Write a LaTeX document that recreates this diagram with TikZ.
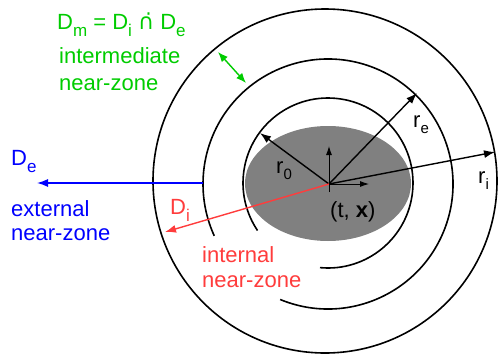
\documentclass[tikz,border=0pt]{standalone}
\usepackage{fontspec}
\setmainfont{Liberation Sans}
\newfontfamily\symfont{DejaVu Sans}
\usetikzlibrary{arrows.meta}

\definecolor{zonegreen}{RGB}{0,204,0}
\definecolor{zoneblue}{RGB}{0,0,255}
\definecolor{zonered}{RGB}{255,60,60}
\definecolor{bodygray}{RGB}{128,128,128}

% 下付き文字
\newcommand{\lowsub}[1]{\raisebox{-7pt}{\fontsize{17}{17}\selectfont #1}}
\newcommand{\rsub}[1]{\raisebox{-6pt}{\fontsize{15}{15}\selectfont #1}}

\tikzset{
  zone/.style={line width=1.6pt},
  radarrow/.style={line width=1.4pt, -{Latex[length=11pt,width=8pt]}},
  axarrow/.style={line width=0.9pt, -{Latex[length=9pt,width=6pt]}},
  lbl/.style={inner sep=0pt, anchor=base west, font=\fontsize{22}{26}\selectfont},
}

\begin{document}
\begin{tikzpicture}[x=1pt,y=-1pt]
  \useasboundingbox (0,0) rectangle (499,354);
  % 物体（灰色の楕円）
  \fill[bodygray] (328,183.5) ellipse [x radius=83pt, y radius=57.5pt];
  % 外側の円
  \draw[zone] (325,181) circle (172pt);
  % 中間の円（左下が欠けている）
  \draw[zone] (328,184) ++(247.5:125pt) arc [start angle=247.5, end angle=564.5, radius=125pt];
  % 内側の円
  \draw[zone] (328,183) ++(264.6:85pt) arc [start angle=264.6, end angle=574, radius=85pt];

  % 中心と矢印の端点
  \coordinate (c) at (329,184);
  \coordinate (r0tip) at (260,133);
  \coordinate (retip) at (417,93);
  \coordinate (ritip) at (495,152);
  \coordinate (ditip) at (165,232);
  \coordinate (axbot) at (329,192);
  \coordinate (axup) at (329,146);
  \coordinate (axright) at (369,184);
  \coordinate (bstart) at (203,183);
  \coordinate (btip) at (37,183);
  \coordinate (gout) at (218,52);
  \coordinate (gin) at (246,83);

  % 半径の矢印
  \draw[radarrow] (c) -- (r0tip);
  \draw[radarrow] (c) -- (retip);
  \draw[radarrow] (c) -- (ritip);
  \draw[radarrow, zonered] (c) -- (ditip);
  % 局所座標軸
  \draw[axarrow] (axbot) -- (axup);
  \draw[axarrow] (c) -- (axright);
  % 外部領域の矢印
  \draw[radarrow, zoneblue] (bstart) -- (btip);
  % 中間領域の幅
  \draw[line width=1.4pt, zonegreen, {Latex[length=10pt,width=8pt]}-{Latex[length=10pt,width=8pt]}] (gout) -- (gin);

  % ラベル（複数行は最終行のベースライン）
  \node[lbl, zonegreen] (dm) at (57,29) {D\lowsub{m} = D\lowsub{i} {\symfont ∩^^^^0307} D\lowsub{e}};
  \node[lbl, zonegreen, align=left, font=\fontsize{22}{27}\selectfont] (inter) at (59,90) {intermediate\\near-zone};
  \node[lbl, zoneblue] (de) at (11,165) {D\lowsub{e}};
  \node[lbl, zoneblue, align=left, font=\fontsize{22}{24}\selectfont] (ext) at (11,240) {external\\near-zone};
  \node[lbl, zonered] (di) at (170,214) {D\lowsub{i}};
  \node[lbl, zonered, align=left, font=\fontsize{22}{25}\selectfont] (int) at (202,287) {internal\\near-zone};
  \node[lbl] (r0) at (276,173) {r\rsub{0}};
  \node[lbl] (re) at (413,127) {r\rsub{e}};
  \node[lbl] (ri) at (478,183) {r\rsub{i}};
  \node[lbl] (tx) at (330,217) {(t, \textbf{x})};
\end{tikzpicture}
\end{document}
